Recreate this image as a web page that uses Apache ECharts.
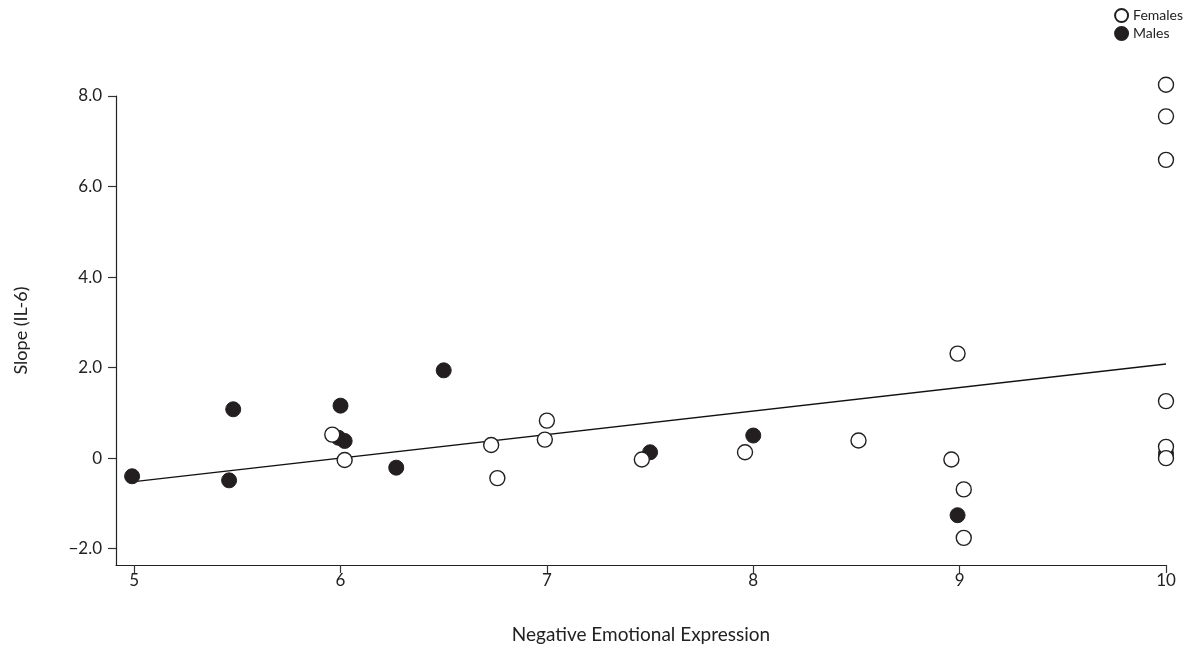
<!DOCTYPE html>
<html>
<head>
<meta charset="utf-8">
<script src="https://cdn.jsdelivr.net/npm/echarts@6/dist/echarts.min.js"></script>
<style>html,body{margin:0;padding:0;background:#fff}#c{width:1190px;height:649px}</style>
</head>
<body>
<div id="c"></div>
<script>
// Data
var femalesX = [5.96, 6.02, 6.73, 6.76, 7.00, 6.99, 7.46, 7.96, 8.51, 8.99, 8.96, 9.02, 9.02, 10.0, 10.0, 10.0, 10.0, 10.0, 10.0];
var femalesY = [0.52, -0.04, 0.29, -0.44, 0.83, 0.41, -0.03, 0.13, 0.39, 2.31, -0.03, -0.69, -1.76, 8.25, 7.55, 6.59, 1.26, 0.25, 0.00];
var malesX = [4.99, 5.46, 5.48, 6.00, 5.99, 6.02, 6.27, 6.50, 7.50, 8.00, 8.99, 10.0];
var malesY = [-0.40, -0.49, 1.08, 1.16, 0.45, 0.38, -0.21, 1.94, 0.13, 0.50, -1.26, 0.10];
var fitX = [5, 10];
var fitY = [-0.52, 2.08];
var xTicks = [5, 6, 7, 8, 9, 10];
var yTicks = [-2, 0, 2, 4, 6, 8];

function zip(a, b) { return a.map(function (v, i) { return [v, b[i]]; }); }

var font = 'Lato, "Open Sans", sans-serif';
var chart = echarts.init(document.getElementById('c'));
chart.setOption({
  animation: false,
  backgroundColor: '#fff',
  textStyle: { fontFamily: font },
  grid: { left: 116, right: 24, top: 96, bottom: 84 },
  legend: {
    orient: 'vertical', right: 2, top: 3,
    itemWidth: 13, itemHeight: 13, itemGap: 3,
    textStyle: { fontSize: 14, color: '#222', fontFamily: font },
    data: ['Females', 'Males']
  },
  xAxis: {
    type: 'value', min: 4.912, max: 10,
    name: 'Negative Emotional Expression', nameLocation: 'middle', nameGap: 60,
    nameTextStyle: { fontSize: 19, color: '#222', fontFamily: font },
    axisLine: { show: true, onZero: false, lineStyle: { color: '#222', width: 1.2 } },
    axisTick: { show: true, length: 8, customValues: xTicks, lineStyle: { color: '#333', width: 1.2 } },
    axisLabel: { customValues: xTicks, fontSize: 17, color: '#222', margin: 7, fontFamily: font },
    splitLine: { show: false }
  },
  yAxis: {
    type: 'value', min: -2.36, max: 8,
    name: 'Slope (IL-6)', nameLocation: 'middle', nameGap: 86,
    nameTextStyle: { fontSize: 18, color: '#222', fontFamily: font },
    axisLine: { show: true, onZero: false, lineStyle: { color: '#222', width: 1.2 } },
    axisTick: { show: true, length: 8, customValues: yTicks, lineStyle: { color: '#333', width: 1.2 } },
    axisLabel: {
      customValues: yTicks, fontSize: 17, color: '#222', margin: 14, fontFamily: font,
      formatter: function (v) { return v === 0 ? '0' : (v < 0 ? '\u2212' + Math.abs(v).toFixed(1) : v.toFixed(1)); }
    },
    splitLine: { show: false }
  },
  series: [
    {
      type: 'line', data: zip(fitX, fitY), symbol: 'none', silent: true,
      lineStyle: { color: '#111', width: 1.3 }, z: 1
    },
    {
      name: 'Males', type: 'scatter', data: zip(malesX, malesY), symbol: 'circle', symbolSize: 15, clip: false,
      itemStyle: { color: '#231f20', borderColor: '#231f20', borderWidth: 1, opacity: 1 }, z: 2
    },
    {
      name: 'Females', type: 'scatter', data: zip(femalesX, femalesY), symbol: 'circle', symbolSize: 15, clip: false,
      itemStyle: { color: '#ffffff', borderColor: '#231f20', borderWidth: 1.4, opacity: 1 }, z: 3
    }
  ]
});
</script>
</body>
</html>
